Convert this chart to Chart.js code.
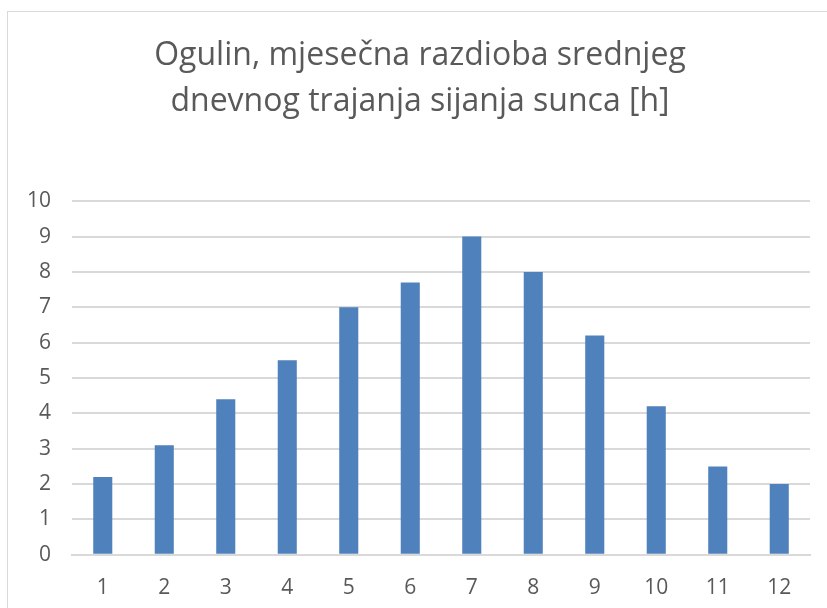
<!DOCTYPE html>
<html>
<head>
<meta charset="utf-8">
<script src="https://cdn.jsdelivr.net/npm/chart.js@4"></script>
<style>
  body { margin: 0; background: #fff; overflow: hidden; }
  #frame { position: absolute; left: 7px; top: 11px; width: 830px; height: 610px; border: 1px solid #d9d9d9; }
  #wrap { position: absolute; left: 0; top: 0; width: 827px; height: 612px; }
</style>
</head>
<body>
<div id="frame"></div>
<div id="wrap"><canvas id="sunChart"></canvas></div>
<script>
// months and mean daily sunshine hours
const months = ["1", "2", "3", "4", "5", "6", "7", "8", "9", "10", "11", "12"];
const sunHours = [2.2, 3.1, 4.4, 5.5, 7.0, 7.7, 9.0, 8.0, 6.2, 4.2, 2.5, 2.0];
const titleLines = ["Ogulin, mjesečna razdioba srednjeg", "dnevnog trajanja sijanja sunca [h]"];

const textColor = "#595959";
const gridColor = "#d9d9d9";

// title is centred on the whole frame, not on the plot
const shiftTitle = {
  id: "shiftTitle",
  afterLayout(chart) {
    if (chart.titleBlock) {
      chart.titleBlock.left += 12;
      chart.titleBlock.right += 12;
    }
  }
};

new Chart(document.getElementById("sunChart").getContext("2d"), {
  type: "bar",
  data: {
    labels: months,
    datasets: [{
      label: "Sijanje sunca",
      data: sunHours,
      backgroundColor: "#4f81bd",
      borderWidth: 0,
      categoryPercentage: 1,
      barPercentage: 0.31
    }]
  },
  options: {
    responsive: true,
    maintainAspectRatio: false,
    animation: false,
    layout: { padding: { left: 6, right: 17, top: 0, bottom: -10 } },
    plugins: {
      legend: { display: false },
      tooltip: { enabled: false },
      title: {
        display: true,
        text: titleLines,
        color: textColor,
        font: { family: "'Open Sans', sans-serif", size: 32, weight: "normal", lineHeight: 1.44 },
        padding: { top: 33, bottom: 76 }
      }
    },
    scales: {
      x: {
        grid: { display: false, drawTicks: false },
        border: { display: true, color: gridColor, width: 2 },
        ticks: { color: textColor, font: { family: "'Open Sans', sans-serif", size: 21 }, padding: 21 }
      },
      y: {
        min: 0,
        max: 10,
        ticks: { stepSize: 1, color: textColor, font: { family: "'Open Sans', sans-serif", size: 21 }, padding: 21 },
        grid: { color: gridColor, lineWidth: 2, drawTicks: false },
        border: { display: false }
      }
    }
  },
  plugins: [shiftTitle]
});
</script>
</body>
</html>
